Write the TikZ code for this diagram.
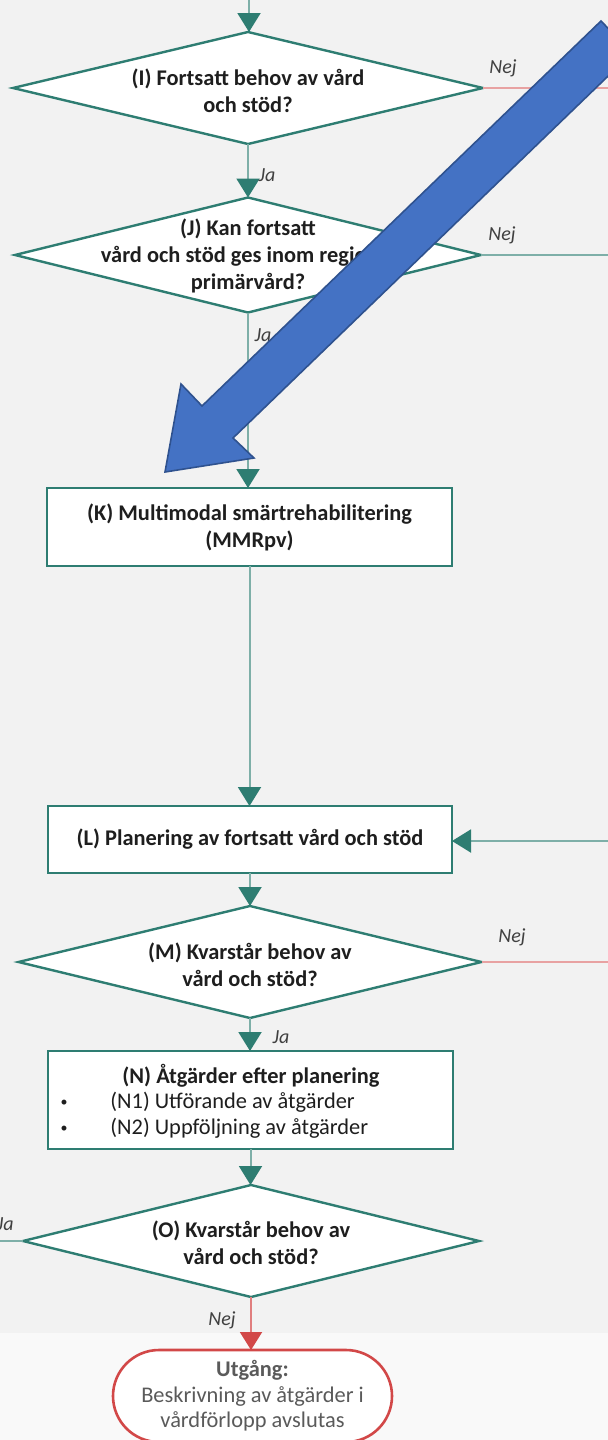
\documentclass[tikz,border=0pt]{standalone}
\usepackage{fontspec}
\setmainfont{Carlito}
\usetikzlibrary{shapes.geometric,arrows.meta}

\definecolor{bgtop}{HTML}{F2F2F2}
\definecolor{bgbot}{HTML}{F9F9F9}
\definecolor{tealdark}{HTML}{2E7D72}
\definecolor{teallight}{HTML}{7EAFA8}
\definecolor{redline}{HTML}{E8A2A2}
\definecolor{redarrow}{HTML}{E07E7E}
\definecolor{reddark}{HTML}{D24848}
\definecolor{blueA}{HTML}{4472C4}
\definecolor{blueB}{HTML}{2F528F}
\definecolor{graytext}{HTML}{5A5A5A}
\definecolor{inktext}{HTML}{1E1E1E}

\tikzset{
  decision/.style={diamond, draw=tealdark, line width=1.2pt, fill=white,
    inner sep=0pt, outer sep=0pt},
  stepbox/.style={rectangle, draw=tealdark, line width=1.4pt, fill=white,
    inner sep=0pt, outer sep=0pt, align=center, text=inktext,
    font=\bfseries\fontsize{11.2}{13.5}\selectfont},
  qtext/.style={align=center, text=inktext, inner sep=0pt,
    font=\bfseries\fontsize{11.2}{13.5}\selectfont},
  itemtext/.style={text=inktext, inner sep=0pt,
    font=\fontsize{11.2}{13.5}\selectfont},
  dot/.style={text=inktext, inner sep=0pt, font=\fontsize{7}{8}\selectfont},
  exitbox/.style={rectangle, rounded corners=23pt, draw=reddark, line width=1.3pt,
    fill=white, inner sep=0pt, outer sep=0pt, align=center, text=graytext,
    font=\fontsize{11.2}{12.8}\selectfont},
  lab/.style={text=inktext!85, inner sep=0pt, font=\itshape\fontsize{10}{12}\selectfont},
  flow/.style={draw=teallight, line width=1pt,
    -{Triangle[width=11.5pt,length=9.5pt,color=tealdark,fill=tealdark]}},
  flowplain/.style={draw=teallight, line width=1pt},
  noline/.style={draw=redline, line width=1.1pt},
  noflow/.style={draw=redarrow, line width=1pt,
    -{Triangle[width=11pt,length=9pt,color=reddark,fill=reddark]}},
  callout/.style={fill=blueA, draw=blueB, line width=0.8pt, line join=miter}
}

\begin{document}
\begin{tikzpicture}[x=0.5pt,y=-0.5pt]
  \useasboundingbox (0,0) rectangle (608,1440);
  \clip (0,0) rectangle (608,1440);

  % page background
  \fill[bgtop] (0,0) rectangle (608,1333);
  \fill[bgbot] (0,1333) rectangle (608,1440);

  % decisions and steps
  \node[decision, minimum width=235pt, minimum height=56pt] (I) at (248,88) {};
  \node[qtext] (Itxt) at (248,91) {(I) Fortsatt behov av vård\\och stöd?};

  \node[decision, minimum width=233pt, minimum height=57.5pt] (J) at (248,255) {};
  \node[qtext] (Jtxt) at (248,256) {(J) Kan fortsatt\\vård och stöd ges inom regional\\primärvård?};

  \node[stepbox, minimum width=202.5pt, minimum height=39pt] (K) at (249.5,527)
    {(K) Multimodal smärtrehabilitering\\(MMRpv)};

  \node[stepbox, minimum width=202pt, minimum height=33.5pt] (L) at (250,839.5)
    {(L) Planering av fortsatt vård och stöd};

  \node[decision, minimum width=231.5pt, minimum height=56pt] (M) at (250,962) {};
  \node[qtext] (Mtxt) at (250,965) {(M) Kvarstår behov av\\vård och stöd?};

  \node[stepbox, minimum width=202.5pt, minimum height=49pt] (N) at (250.5,1100) {};
  \node[qtext] (Ntitle) at (251,1076) {(N) Åtgärder efter planering};
  \node[dot] (b1) at (64,1103) {•};
  \node[itemtext, anchor=west] (N1) at (110,1102) {(N1) Utförande av åtgärder};
  \node[dot] (b2) at (64,1129) {•};
  \node[itemtext, anchor=west] (N2) at (110,1128) {(N2) Uppföljning av åtgärder};

  \node[decision, minimum width=228pt, minimum height=56pt] (O) at (251,1241) {};
  \node[qtext] (Otxt) at (251,1243) {(O) Kvarstår behov av\\vård och stöd?};

  \node[exitbox, minimum width=139.5pt, minimum height=46pt] (X) at (252.5,1396)
    {\textbf{Utgång:}\\Beskrivning av åtgärder i\\vårdförlopp avslutas};

  % loose ends of connectors at the page border
  \coordinate (top) at (249,0);
  \coordinate (Iout) at (608,88);
  \coordinate (Jout) at (608,255);
  \coordinate (Lin) at (608,841);
  \coordinate (Mout) at (608,962);
  \coordinate (Oout) at (0,1241);

  % connectors
  \draw[flow] (top) -- (top |- I.north);
  \draw[flow] (I.south) -- (J.north);
  \draw[flow] (J.south) -- (J.south |- K.north);
  \draw[flow] (K.south) -- (K.south |- L.north);
  \draw[flow] (L.south) -- (L.south |- M.north);
  \draw[flow] (M.south) -- (M.south |- N.north);
  \draw[flow] (N.south) -- (N.south |- O.north);
  \draw[noflow] (O.south) -- (O.south |- X.north);
  \draw[flow] (Lin) -- (L.east |- Lin);
  \draw[noline] (I.east) -- (Iout);
  \draw[flowplain] (J.east) -- (Jout);
  \draw[noline] (M.east) -- (Mout);
  \draw[flowplain] (O.west) -- (Oout);

  % answer labels
  \node[lab] (l1) at (503,68) {Nej};
  \node[lab] (l2) at (267,175) {Ja};
  \node[lab] (l3) at (502,235) {Nej};
  \node[lab] (l4) at (263,335) {Ja};
  \node[lab] (l5) at (512,937) {Nej};
  \node[lab] (l6) at (281,1037) {Ja};
  \node[lab, anchor=east] (l7) at (14,1224) {Ja};
  \node[lab] (l8) at (222,1320) {Nej};

  % large pointer arrow
  \draw[callout] (601,21) -- (202,406) -- (181,384) -- (165,472)
    -- (254,458) -- (233,438) -- (632,53) -- cycle;
\end{tikzpicture}
\end{document}
